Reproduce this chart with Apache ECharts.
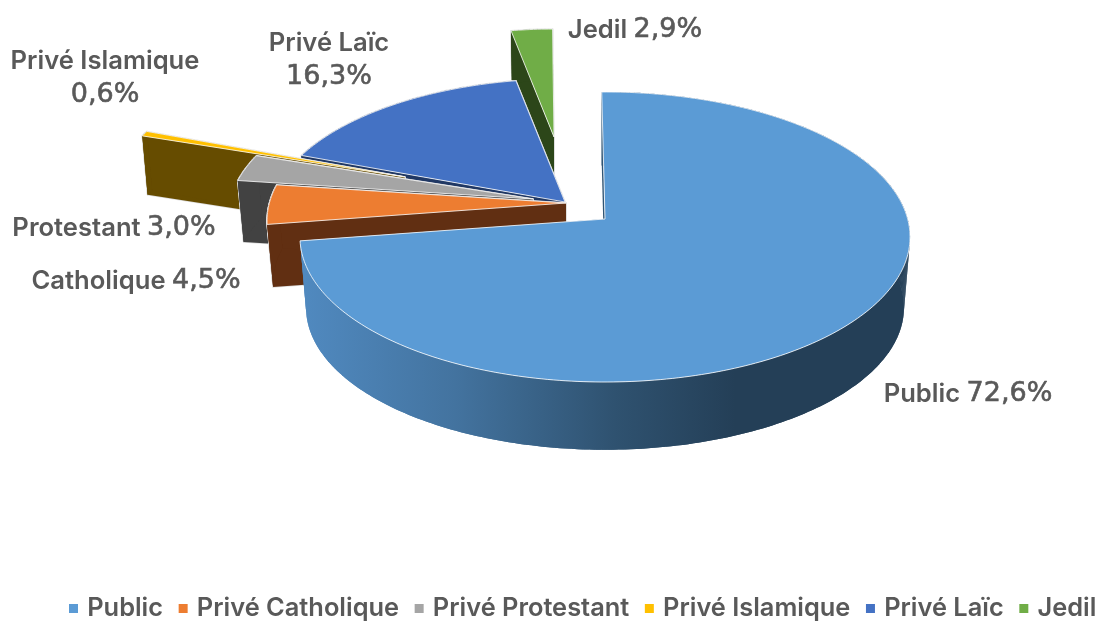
<!DOCTYPE html>
<html>
<head>
<meta charset="utf-8">
<style>html,body{margin:0;padding:0;background:#fff}#c{width:1099px;height:621px}</style>
<script src="https://cdn.jsdelivr.net/npm/echarts@6/dist/echarts.min.js"></script>
</head>
<body>
<div id="c"></div>
<script>
// --- data ---
const categories = ['Public','Privé Catholique','Privé Protestant','Privé Islamique','Privé Laïc','Jedil'];
const shares = [72.6,4.5,3.0,0.6,16.3,2.9];
const labelNames = ['Public','Catholique','Protestant','Privé Islamique','Privé Laïc','Jedil'];
const labelShares = ['72,6%','4,5%','3,0%','0,6%','16,3%','2,9%'];
const labelStacked = [false,false,false,true,true,false];
// --- styles ---
const topColors = ['#5b9bd5','#ed7d31','#a5a5a5','#ffc000','#4472c4','#70ad47'];
const wallColors = [null,'#612f12','#424242','#664c00','#203864','#2c4619'];
// --- layout of the exploded slices ---
const apexX = [605,566,533,405,565,554];
const apexY = [219,203,199,177,202,137];
const sliceScale = [1,0.98,1,0.95,0.97,0.85];
const sliceDepth = [71,63,61,58,60,50];
const labelX = [968,136,114,105,329,635];
const labelY = [394,281,228,61,43,30];
const paintOrder = [5,4,3,2,1,0];
const PUBLIC_START = -0.7, RX = 302.7, RY = 142.8, PERSP = -0.124, BOTTOM = 0.98;
const FONT = 'Inter', DIGIT_FONT = '"DejaVu Sans"', INK = '#595959';

function cumulative(i){let s=0;for(let k=0;k<i;k++)s+=shares[k];return s*3.6;}
function project(i,deg){
  const t=deg*Math.PI/180,u=Math.sin(t),v=-Math.cos(t),d=1+PERSP*v;
  return [RX*u/d*sliceScale[i],RY*v/d*sliceScale[i]];
}
function renderSlice(i){
  return function(params,api){
    const a0=i===0?PUBLIC_START:cumulative(i),a1=cumulative(i)+api.value(0)*3.6,ax=apexX[i],ay=apexY[i],dep=sliceDepth[i];
    const arc=[];
    const n=Math.max(2,Math.ceil(a1-a0));
    for(let k=0;k<=n;k++)arc.push(project(i,a0+(a1-a0)*k/n));
    const T=p=>[ax+p[0],ay+p[1]];
    const B=p=>[ax+p[0]*BOTTOM,ay+p[1]*BOTTOM+dep];
    const wallFill=i===0?{type:'linear',x:305,y:0,x2:735,y2:0,global:true,colorStops:[
      {offset:0,color:'#5089bf'},{offset:0.35,color:'#43739f'},{offset:0.72,color:'#2f5270'},{offset:1,color:'#243f57'}]}:wallColors[i];
    const poly=(pts,style)=>({type:'polygon',shape:{points:pts},style});
    const ribbon=arc.map(T).concat(arc.slice().reverse().map(B));
    const ray0=[T([0,0]),T(arc[0]),B(arc[0]),B([0,0])];
    const ray1=[T([0,0]),T(arc[n]),B(arc[n]),B([0,0])];
    const quads=[];
    for(let k=0;k<n;k++)quads.push([T(arc[k]),T(arc[k+1]),B(arc[k+1]),B(arc[k])]);
    const top=[T([0,0])].concat(arc.map(T));
    const kids=[];
    if(i!==0){
      const edge={fill:'none',stroke:'#dedede',lineWidth:1.5,lineJoin:'round'};
      kids.push(poly(ray0,edge),poly(ray1,edge));
      quads.forEach(q=>kids.push(poly(q,edge)));
    }
    const wall={fill:wallFill};
    kids.push(poly(ray0,wall),poly(ray1,wall));
    quads.forEach(q=>kids.push(poly(q,wall)));
    kids.push(poly(ribbon,wall));
    kids.push(poly(top,{fill:topColors[i],stroke:'rgba(255,255,255,0.8)',lineWidth:1,lineJoin:'round'}));
    return {type:'group',children:kids};
  };
}
const series=paintOrder.map((i,idx)=>({
  type:'custom',name:categories[i],coordinateSystem:'none',z:2+idx,silent:true,
  itemStyle:{color:topColors[i]},
  data:[[shares[i]]],renderItem:renderSlice(i)
}));
const rich={
  n:{fontFamily:FONT,fontWeight:600,fontSize:25.6,fill:INK},
  d:{fontFamily:DIGIT_FONT,fontSize:27,fill:INK,stroke:INK,lineWidth:0.6}
};
const graphics=[];
labelNames.forEach((name,i)=>{
  const parts=labelStacked[i]?[['{n|'+name+'}',0],['{d|'+labelShares[i]+'}',34]]:[['{n|'+name+' }{d|'+labelShares[i]+'}',0]];
  parts.forEach(([t,dy])=>graphics.push({
    type:'text',z:100,x:labelX[i],y:labelY[i]+dy,
    style:{text:t,rich,fill:INK,align:'center',verticalAlign:'middle'}
  }));
});
const chart=echarts.init(document.getElementById('c'),null,{renderer:'canvas'});
chart.setOption({
  animation:false,backgroundColor:'#fff',
  legend:{data:categories,left:69,top:596,width:1200,icon:'rect',itemWidth:9,itemHeight:9,itemGap:15.6,padding:0,
    formatter:n=>'\u2009'+n,
    textStyle:{fontFamily:FONT,fontWeight:600,fontSize:25.4,color:INK}},
  graphic:graphics,series
});
</script>
</body>
</html>
